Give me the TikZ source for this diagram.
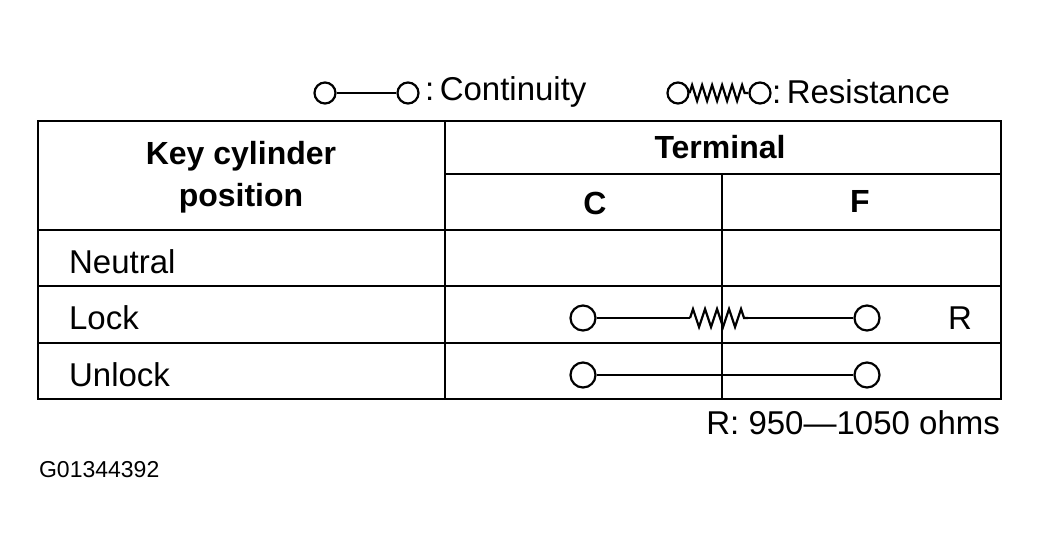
\documentclass[tikz,border=0pt]{standalone}
\usepackage{fontspec}
\setmainfont{Liberation Sans}
\usetikzlibrary{decorations.pathmorphing}
\begin{document}
\begin{tikzpicture}[x=1pt,y=-1pt,line width=2.2pt,
  term/.style={circle,draw,inner sep=0pt,minimum size=25pt,line width=2.2pt},
  smallterm/.style={circle,draw,inner sep=0pt,minimum size=21pt,line width=2.2pt},
  txt/.style={font=\fontsize{33}{38}\selectfont,inner sep=0pt},
  hd/.style={font=\fontsize{32}{38}\selectfont\bfseries,inner sep=0pt,align=center},
  zz/.style={decorate,decoration={zigzag,segment length=12pt,amplitude=9pt}}]
\useasboundingbox (0,0) rectangle (1041,555);
% table
\draw (38,121) rectangle (1001,399);
\draw (445,121) -- (445,399);
\draw (445,174) -- (1001,174);
\draw (722,174) -- (722,399);
\draw (38,230) -- (1001,230);
\draw (38,286) -- (1001,286);
\draw (38,343) -- (1001,343);
% headers
\node[hd] (kc) at (241,177) {Key cylinder\\[4pt]position};
\node[hd] (term) at (720,147) {Terminal};
\node[hd] (c) at (595,203) {C};
\node[hd] (f) at (860,201) {F};
\node[txt,anchor=west] (neu) at (68,262) {Neutral};
\node[txt,anchor=west] (lock) at (68,318) {Lock};
\node[txt,anchor=west] (unl) at (68,375) {Unlock};
% lock row
\node[term] (l1) at (583,318) {};
\node[term] (l2) at (867,318) {};
\coordinate (z1) at (690,318);
\coordinate (z2) at (748,318);
\draw (l1) -- (z1);
\draw[zz] (z1) -- (z2);
\draw (z2) -- (l2);
\node[txt] (r) at (960,318) {R};
% unlock row
\node[term] (u1) at (583,375) {};
\node[term] (u2) at (867,375) {};
\draw (u1) -- (u2);
% legend
\node[smallterm] (a1) at (325,93) {};
\node[smallterm] (a2) at (408,93) {};
\draw (a1) -- (a2);
\node[txt,anchor=west] (cont) at (424,92) {:\,Continuity};
\node[smallterm] (b1) at (678,93) {};
\node[smallterm] (b2) at (760,93) {};
\draw[zz,decoration={amplitude=8pt,segment length=10pt}] (b1) -- (b2);
\node[txt,anchor=west] (res) at (771,92) {:\,Resistance};
% notes
\node[txt,anchor=east] (ohm) at (1001,423) {R: 950—1050 ohms};
\node[font=\fontsize{23}{26}\selectfont,inner sep=0pt,anchor=west] (g) at (38,470) {G01344392};
\end{tikzpicture}
\end{document}
